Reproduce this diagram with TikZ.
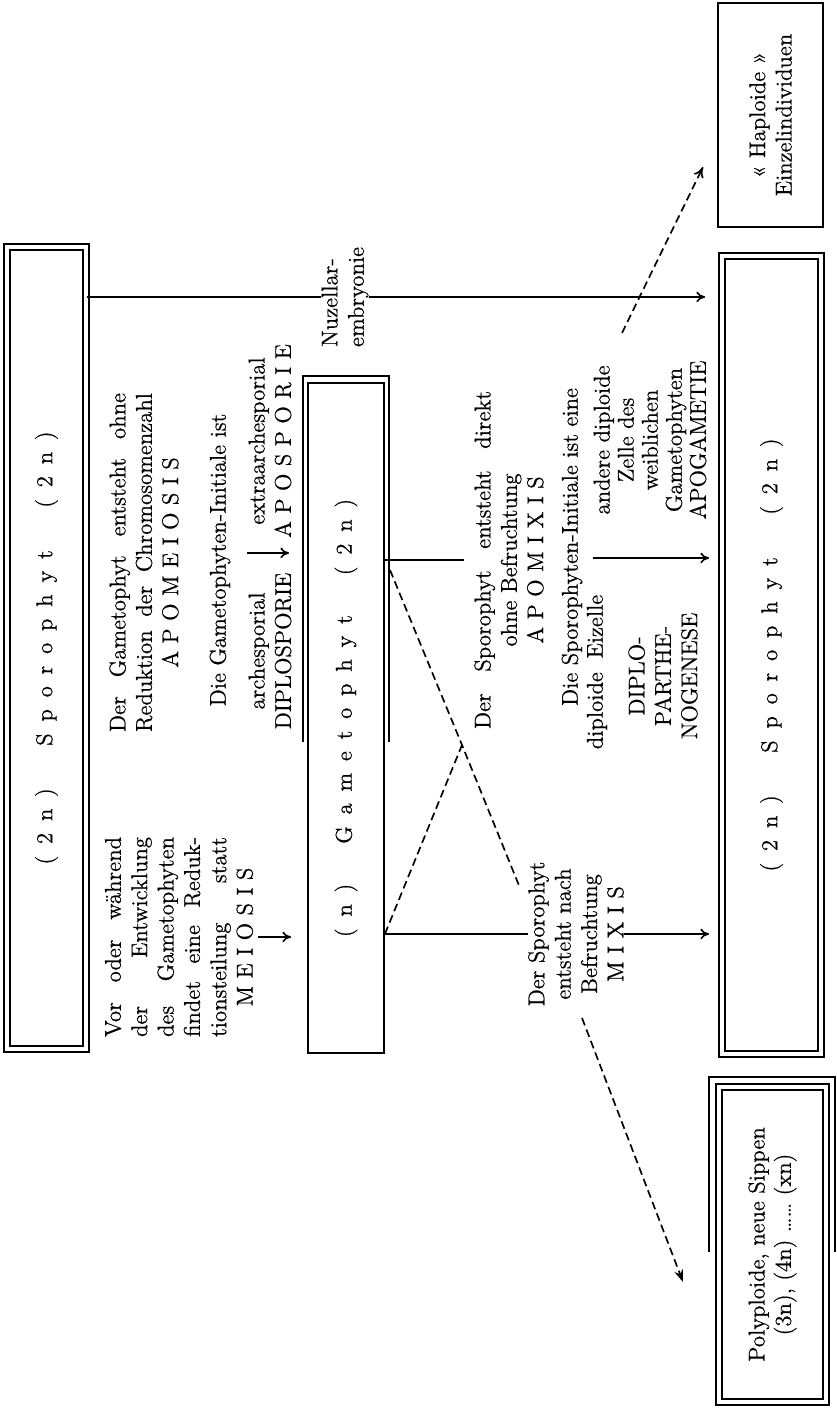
\documentclass[tikz,border=0pt]{standalone}
\usepackage{fontspec}
\usetikzlibrary{arrows.meta,calc,positioning}

\newfontfamily\druck{Latin Modern Roman}[FakeBold=0.6]
\newcommand{\mitte}[1]{\hspace*{\fill}#1\hspace*{\fill}\null}
\newcommand{\gesperrt}[1]{{\spaceskip=6.7pt\relax #1}}

\begin{document}
\begin{tikzpicture}[x=0.02cm,y=0.02cm,
    every node/.style={rotate=90,inner sep=0pt,font=\druck\fontsize{13}{15}\selectfont},
    dbox/.style={draw,double,double distance=2pt,line width=1.05pt},
    sbox/.style={draw,line width=1.05pt},
    block/.style={text width=#1,align=justify},
    con/.style={line width=0.95pt},
    pfeil/.style={con,-{To[length=5pt,width=6pt]}},
    gestr/.style={con,dash pattern=on 4.5pt off 2.5pt}]

  \useasboundingbox (0,0) rectangle (836,1408);

  % Kaesten
  \node[dbox,minimum width=16.04cm,minimum height=1.58cm] (spTop) at (46.5,760)
    {\gesperrt{( 2 n )\hspace{0.85cm}S p o r o p h y t\hspace{0.85cm}( 2 n )}};
  \node[sbox,minimum width=13.4cm,minimum height=1.52cm] (gam) at (346,690)
    {\gesperrt{( n )\hspace{0.8cm}G a m e t o p h y t\hspace{0.8cm}( 2 n )}};
  \draw[line width=1.05pt] ($(gam.north)+(-4,-24)$) -- ($(gam.north east)+(-4,6)$)
    -- ($(gam.south east)+(4,6)$) -- ($(gam.south)+(4,-24)$);
  \node[dbox,minimum width=15.96cm,minimum height=1.98cm] (spBot) at (771.5,753)
    {\gesperrt{( 2 n )\hspace{0.85cm}S p o r o p h y t\hspace{0.85cm}( 2 n )}};
  \node[sbox,align=center,minimum width=4.48cm,minimum height=2.1cm] (hap) at (770.5,1293)
    {« Haploide »\\Einzelindividuen};
  \node[dbox,align=center,minimum width=6.3cm,minimum height=2.14cm] (poly) at (772.5,163.5)
    {Polyploide, neue Sippen\\(3n), (4n) \dots\dots{} (xn)};
  \draw[line width=1.05pt] ($(poly.north)+(-9,-7.5)$) -- ($(poly.north east)+(-9,9)$)
    -- ($(poly.south east)+(8,9)$) -- ($(poly.south)+(8,-7.5)$);

  % Texte
  \node[block=4cm] (vor) at (179,471)
    {Vor oder während\linebreak der Entwicklung\linebreak des Gametophyten\linebreak
     findet eine Reduk-\linebreak tionsteilung statt\linebreak\mitte{M E I O S I S}};
  \node[block=6.78cm] (apomei) at (144,845.5)
    {Der Gametophyt entsteht ohne\linebreak Reduktion der Chromosomenzahl\linebreak
     \mitte{A P O M E I O S I S}};
  \node (gamInit) at (220,848) {Die Gametophyten-Initiale ist};
  \node[align=center] (arch) at (270,757) {archesporial\\DIPLOSPORIE};
  \node[align=center] (extra) at (270,967) {extraarchesporial\\A P O S P O R I E};
  \node[align=left] (nuz) at (345,1111) {Nuzellar-\\embryonie};
  \node[block=6.76cm] (apomix) at (509,848)
    {Der Sporophyt entsteht direkt\linebreak\mitte{ohne Befruchtung}\linebreak
     \mitte{A P O M I X I S}};
  \node (spInit) at (572,861) {Die Sporophyten-Initiale ist eine};
  \node (eiz) at (597,736) {diploide\hspace{0.6em}Eizelle};
  \node[align=center] (diplo) at (663,732) {DIPLO-\\PARTHE-\\NOGENESE};
  \node[align=center,font=\druck\fontsize{13}{13.7}\selectfont] (apogam) at (650,968)
    {andere diploide\\Zelle des\\weiblichen\\Gametophyten\\APOGAMETIE};
  \node[align=center] (mixis) at (576,474)
    {Der Sporophyt\\entsteht nach\\Befruchtung\\M I X I S};

  % Verbindungen
  \coordinate (sepA) at (247,855);
  \coordinate (sepB) at (593,850);
  \coordinate (kreuz) at (462,663);
  \coordinate (dStart) at (390,838);
  \coordinate (dEnd) at (520,520);
  \coordinate (hapS) at (622,1075);
  \coordinate (hapZ) at (703,1241);
  \coordinate (polyS) at (582,390);
  \coordinate (polyZ) at (683,126);

  \draw[con] (nuz.north -| spTop.south) -- (nuz.north);
  \draw[pfeil,shorten >=0.32cm] (nuz.south) -- (nuz.south -| spBot.north);
  \draw[pfeil,shorten <=0.1cm,shorten >=0.32cm] (vor.south) -- (vor.south -| gam.north);
  \draw[pfeil,shorten >=0.36cm] (sepA) -- (sepA -| gam.north);
  \draw[con,shorten >=0.2cm] (apomix.north -| gam.south) -- (apomix.north);
  \draw[pfeil,shorten >=0.24cm] (sepB) -- (sepB -| spBot.north);
  \draw[con] (mixis.north -| gam.south) -- (mixis.north);
  \draw[pfeil,shorten >=0.24cm] (mixis.south) -- (mixis.south -| spBot.north);

  \draw[gestr] (dStart) -- (kreuz) -- (dEnd);
  \draw[gestr] (mixis.north -| gam.south) -- (kreuz);
  \draw[gestr,-{To[length=6pt,width=6pt]}] (hapS) -- (hapZ);
  \draw[gestr,-{Stealth[length=7pt,width=5pt]}] (polyS) -- (polyZ);
\end{tikzpicture}
\end{document}
